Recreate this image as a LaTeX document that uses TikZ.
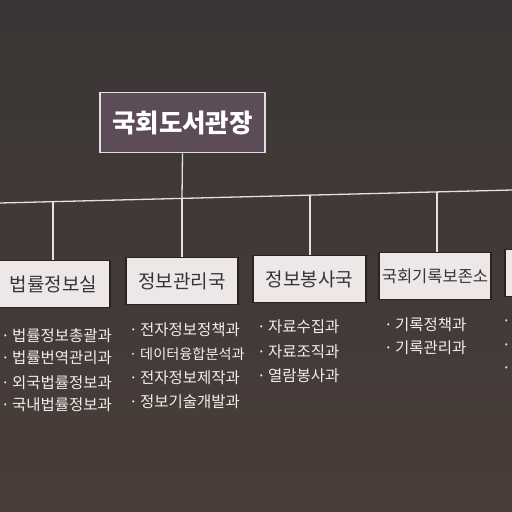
\documentclass[tikz,border=0pt]{standalone}
\usepackage{fontspec}
\setmainfont{Noto Sans CJK KR}
\definecolor{bgtop}{HTML}{3A3635}
\definecolor{bgbot}{HTML}{493D39}
\definecolor{topfill}{HTML}{5C4C58}
\definecolor{topedge}{HTML}{E2DDE0}
\definecolor{boxfill}{HTML}{EEE7E7}
\definecolor{boxedge}{HTML}{2A2321}
\definecolor{boxtext}{HTML}{3A3333}
\definecolor{linecol}{HTML}{E4E0E4}
\definecolor{itemtext}{HTML}{F2EEEE}
\tikzset{
  headbox/.style={draw=topedge, line width=1.6pt, fill=topfill, minimum width=165pt, minimum height=60pt, inner sep=0pt, text=white, font=\fontsize{25.5}{25.5}\selectfont\bfseries},
  deptbox/.style={draw=boxedge, line width=1.2pt, fill=boxfill, minimum width=112pt, minimum height=47pt, inner sep=0pt, text=boxtext, font=\fontsize{19}{19}\selectfont},
  conn/.style={draw=linecol, line width=1.3pt},
  item/.style={anchor=west, inner sep=0pt, text=itemtext, font=\fontsize{15.5}{15.5}\selectfont}
}
\newcommand{\itm}[1]{\makebox[11pt][l]{·}#1}
\begin{document}
\begin{tikzpicture}[x=1pt,y=-1pt]
\useasboundingbox (0,0) rectangle (512,512);
\shade[top color=bgtop, bottom color=bgbot] (0,0) rectangle (512,512);
\clip (0,0) rectangle (512,512);

% head
\node[headbox] (head) at (182.5,122.5) {국회도서관장};

% bus
\coordinate (busL) at (0,203);
\coordinate (busR) at (512,190);
\coordinate (j0) at (182,198.4);
\coordinate (j1) at (53,201.7);
\coordinate (j2) at (182,198.4);
\coordinate (j3) at (310,195.1);
\coordinate (j4) at (437,191.9);

% departments
\node[deptbox, minimum width=113pt] (b1) at (53.5,284) {법률정보실};
\node[deptbox] (b2) at (182,281) {정보관리국};
\node[deptbox, minimum width=113pt] (b3) at (309.5,279) {정보봉사국};
\node[deptbox, font=\fontsize{16.5}{16.5}\selectfont] (b4) at (435,276) {국회기록보존소};
\node[deptbox] (b5) at (561,273) {};

\draw[conn] (busL) -- (busR);
\draw[conn] (head.south) -- (j0);
\draw[conn] (j1) -- (j1 |- b1.north);
\draw[conn] (j2) -- (j2 |- b2.north);
\draw[conn] (j3) -- (j3 |- b3.north);
\draw[conn] (j4) -- (j4 |- b4.north);

% lists
\node[item] (a1) at (1,336) {\itm{법률정보총괄과}};
\node[item] (a2) at (1,358) {\itm{법률번역관리과}};
\node[item] (a3) at (1,383) {\itm{외국법률정보과}};
\node[item] (a4) at (1,405) {\itm{국내법률정보과}};

\node[item] (c1) at (129,330) {\itm{전자정보정책과}};
\node[item, font=\fontsize{14.2}{14.2}\selectfont] (c2) at (129,354) {\itm{데이터융합분석과}};
\node[item] (c3) at (129,378) {\itm{전자정보제작과}};
\node[item] (c4) at (129,402) {\itm{정보기술개발과}};

\node[item] (d1) at (257,327) {\itm{자료수집과}};
\node[item] (d2) at (257,352) {\itm{자료조직과}};
\node[item] (d3) at (257,376) {\itm{열람봉사과}};

\node[item] (e1) at (384,325) {\itm{기록정책과}};
\node[item] (e2) at (384,348) {\itm{기록관리과}};

\node[item] (f1) at (502,323) {·};
\node[item] (f2) at (502,347) {·};
\node[item] (f3) at (502,370) {·};
\end{tikzpicture}
\end{document}
